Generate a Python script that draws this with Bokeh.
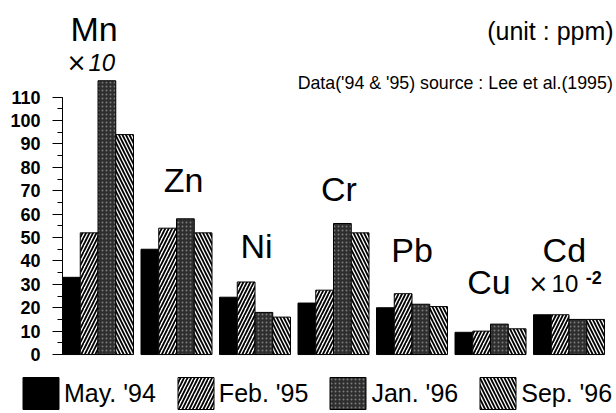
from bokeh.plotting import figure
from bokeh.models import Range1d, FixedTicker, Legend, LegendItem, ColumnDataSource
from bokeh.core.properties import value
from bokeh.embed import file_html
from bokeh.resources import INLINE

# ---- data ----
elements = ["Mn", "Zn", "Ni", "Cr", "Pb", "Cu", "Cd"]
may94 = [33, 45, 24.5, 22, 20, 9.5, 17]
feb95 = [52, 54, 31, 27.5, 26, 10, 17]
jan96 = [117, 58, 18, 56, 21.5, 13, 15]
sep96 = [94, 52, 16, 52, 20.5, 11, 15]
series_names = ["May. '94", "Feb. '95", "Jan. '96", "Sep. '96"]
y_ticks = list(range(0, 111, 10))

# ---- layout parameters ----
BAR_W = 0.2261
PX_PER_UNIT = 2.34
label_dx = [-0.05, 0.09, 0.02, 0.07, 0.0, -0.02, -0.06]
label_y = [133.3, 68.8, 40.6, 65.0, 38.9, 25.2, 38.9]
FONT = "Liberation Sans"


def fix(y, fs):
    # compensate for the renderer's baseline offset (about 0.4 em)
    return y + 0.4 * fs / PX_PER_UNIT


p = figure(width=616, height=413, output_backend="svg", toolbar_location=None,
           x_range=Range1d(-0.7898, 7.057), y_range=Range1d(-25.2, 151.3),
           x_axis_location=None, y_axis_location="left")
p.min_border = 0
p.min_border_left = 0
p.min_border_right = 0
p.min_border_top = 0
p.min_border_bottom = 0
p.outline_line_color = None
p.grid.visible = False
p.background_fill_color = "white"
p.border_fill_color = "white"

ax = p.yaxis[0]
ax.fixed_location = 0
ax.ticker = FixedTicker(ticks=y_ticks, minor_ticks=list(range(0, 111, 5)))
ax.bounds = (0, 110)
ax.major_tick_out = 10
ax.major_tick_in = 0
ax.minor_tick_out = 5
ax.minor_tick_in = 0
ax.major_label_standoff = 12
ax.major_label_text_font = FONT
ax.major_label_text_font_style = "bold"
ax.major_label_text_font_size = "18px"
ax.major_label_text_color = "black"
ax.axis_line_color = "black"
ax.major_tick_line_color = "black"
ax.minor_tick_line_color = "black"

series = [may94, feb95, jan96, sep96]
styles = [
    dict(fill_color="black"),
    dict(fill_color="white", hatch_pattern="/", hatch_color="black", hatch_scale=7, hatch_weight=1.8),
    dict(fill_color="#2e2e2e", hatch_pattern="dot", hatch_color="#7a7a7a", hatch_scale=4, hatch_weight=1),
    dict(fill_color="white", hatch_pattern="\\", hatch_color="black", hatch_scale=7, hatch_weight=1.8),
]
renderers = []
for j, (vals, st) in enumerate(zip(series, styles)):
    xs = [i + BAR_W * (j + 0.5) for i in range(len(elements))]
    src = ColumnDataSource(dict(x=xs, top=vals))
    r = p.vbar(x="x", top="top", bottom=0, width=BAR_W, source=src,
               line_color="black", line_width=1, **st)
    renderers.append(r)

# element labels
centers = [i + BAR_W * 2 for i in range(len(elements))]
p.text(x=[c + d for c, d in zip(centers, label_dx)], y=[fix(v, 34) for v in label_y],
       text=elements, text_font=value(FONT), text_font_size="34px", text_align="center",
       text_baseline="alphabetic", text_color="black")

# scale notes
p.text(x=[0.178], y=[fix(120.5, 24)], text=["×"], text_font=value("DejaVu Sans"),
       text_font_size="24px", text_align="center", text_baseline="alphabetic")
p.text(x=[0.331], y=[fix(120.5, 24)], text=["10"], text_font=value(FONT),
       text_font_size="24px", text_font_style="italic", text_align="left",
       text_baseline="alphabetic")
p.text(x=[6.06], y=[fix(26.1, 24)], text=["×"], text_font=value("DejaVu Sans"),
       text_font_size="24px", text_align="center", text_baseline="alphabetic")
p.text(x=[6.23], y=[fix(26.1, 24)], text=["10"], text_font=value(FONT),
       text_font_size="24px", text_align="left", text_baseline="alphabetic")
p.text(x=[6.665], y=[fix(29.8, 18)], text=["-2"], text_font=value(FONT),
       text_font_size="18px", text_font_style="bold", text_align="left",
       text_baseline="alphabetic")

# header notes
p.text(x=[7.02], y=[fix(134.2, 25)], text=["(unit : ppm)"], text_font=value(FONT),
       text_font_size="25px", text_align="right", text_baseline="alphabetic")
p.text(x=[7.01], y=[fix(113.0, 17.8)], text=["Data('94 & '95) source : Lee et al.(1995)"],
       text_font=value(FONT), text_font_size="17.8px", text_align="right",
       text_baseline="alphabetic")

legend = Legend(items=[LegendItem(label=n, renderers=[r]) for n, r in zip(series_names, renderers)],
                orientation="horizontal", location=(18, 0),
                glyph_width=45, glyph_height=40, label_height=40,
                label_standoff=1, spacing=17, padding=0, margin=0,
                border_line_color=None, background_fill_alpha=0,
                label_text_font=FONT, label_text_font_size="25px",
                label_text_color="black")
p.add_layout(legend)

open("out.html", "w").write(file_html(p, INLINE))
